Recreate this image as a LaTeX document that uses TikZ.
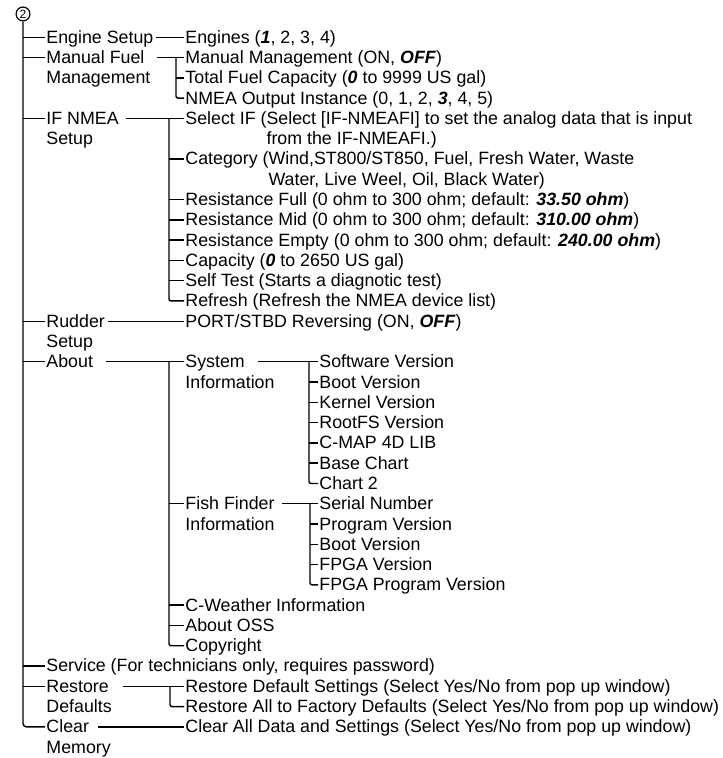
\documentclass[tikz,border=0pt]{standalone}
\usepackage{fontspec}
\setmainfont{Liberation Sans}
\newcommand{\dflt}[1]{\textbf{\textit{#1}}}
\tikzset{
  menuItem/.style={
    anchor=west,
    inner sep=0pt,
    outer xsep=1.1pt,
    text height=9.3pt,
    text depth=0.3pt,
    font=\fontsize{13.35pt}{15.2pt}\selectfont
  },
  menuCircle/.style={
    circle,
    draw,
    line width=0.9pt,
    inner sep=0pt,
    minimum size=10.4pt,
    font=\fontsize{9pt}{9pt}\selectfont
  },
  junction/.style={rounded corners=1.5pt}
}
\begin{document}
\begin{tikzpicture}[x=0.75pt,y=-15.21pt,line width=1.05pt]
  \useasboundingbox (0,-1.839) rectangle (722,35.537);

  \node[menuCircle] (menu) at (23,-1.15) {2};

  % first level
  \node[menuItem] (engsetup) at (45,0) {Engine Setup};
  \node[menuItem] (fuel) at (45,1) {Manual Fuel};
  \node[menuItem] (fuelB) at (45,2) {Management};
  \node[menuItem] (ifnmea) at (45,4) {IF NMEA};
  \node[menuItem] (ifnmeaB) at (45,5) {Setup};
  \node[menuItem] (rudder) at (45,14) {Rudder};
  \node[menuItem] (rudderB) at (45,15) {Setup};
  \node[menuItem] (about) at (45,16) {About};
  \node[menuItem] (service) at (45,31)
    {Service (For technicians only, requires password)};
  \node[menuItem] (restore) at (45,32) {Restore};
  \node[menuItem] (restoreB) at (45,33) {Defaults};
  \node[menuItem] (clear) at (45,34) {Clear};
  \node[menuItem] (clearB) at (45,35) {Memory};

  % second level
  \node[menuItem] (engines) at (184,0) {Engines (\dflt{1}, 2, 3, 4)};
  \node[menuItem] (mfmgmt) at (184,1) {Manual Management (ON, \dflt{OFF})};
  \node[menuItem] (fuelcap) at (184,2)
    {Total Fuel Capacity (\dflt{0} to 9999 US gal)};
  \node[menuItem] (nmeaout) at (184,3)
    {NMEA Output Instance (0, 1, 2, \dflt{3}, 4, 5)};
  \node[menuItem] (selif) at (184,4)
    {Select IF (Select [IF-NMEAFI] to set the analog data that is input};
  \node[menuItem] (selifB) at (184,5)
    {\phantom{Select IF (}from the IF-NMEAFI.)};
  \node[menuItem] (cat) at (184,6)
    {Category (Wind,ST800/ST850, Fuel, Fresh Water, Waste};
  \node[menuItem] (catB) at (184,7)
    {\phantom{Category (}Water, Live Weel, Oil, Black Water)};
  \node[menuItem] (resfull) at (184,8)
    {Resistance Full (0 ohm to 300 ohm; default: \dflt{33.50 ohm})};
  \node[menuItem] (resmid) at (184,9)
    {Resistance Mid (0 ohm to 300 ohm; default: \dflt{310.00 ohm})};
  \node[menuItem] (resempty) at (184,10)
    {Resistance Empty (0 ohm to 300 ohm; default: \dflt{240.00 ohm})};
  \node[menuItem] (capacity) at (184,11)
    {Capacity (\dflt{0} to 2650 US gal)};
  \node[menuItem] (selftest) at (184,12) {Self Test (Starts a diagnotic test)};
  \node[menuItem] (refresh) at (184,13)
    {Refresh (Refresh the NMEA device list)};
  \node[menuItem] (reversing) at (184,14)
    {PORT/STBD Reversing (ON, \dflt{OFF})};
  \node[menuItem] (sysinfo) at (184,16) {System};
  \node[menuItem] (sysinfoB) at (184,17) {Information};
  \node[menuItem] (ffinfo) at (184,23) {Fish Finder};
  \node[menuItem] (ffinfoB) at (184,24) {Information};
  \node[menuItem] (cweather) at (184,28) {C-Weather Information};
  \node[menuItem] (oss) at (184,29) {About OSS};
  \node[menuItem] (copyright) at (184,30) {Copyright};
  \node[menuItem] (restdef) at (184,32)
    {Restore Default Settings (Select Yes/No from pop up window)};
  \node[menuItem] (restall) at (184,33)
    {Restore All to Factory Defaults (Select Yes/No from pop up window)};
  \node[menuItem] (clearall) at (184,34)
    {Clear All Data and Settings (Select Yes/No from pop up window)};

  % third level
  \node[menuItem] (softver) at (318,16) {Software Version};
  \node[menuItem] (bootver) at (318,17) {Boot Version};
  \node[menuItem] (kernel) at (318,18) {Kernel Version};
  \node[menuItem] (rootfs) at (318,19) {RootFS Version};
  \node[menuItem] (cmap) at (318,20) {C-MAP 4D LIB};
  \node[menuItem] (basechart) at (318,21) {Base Chart};
  \node[menuItem] (chart2) at (318,22) {Chart 2};
  \node[menuItem] (serial) at (318,23) {Serial Number};
  \node[menuItem] (progver) at (318,24) {Program Version};
  \node[menuItem] (ffboot) at (318,25) {Boot Version};
  \node[menuItem] (fpga) at (318,26) {FPGA Version};
  \node[menuItem] (fpgaprog) at (318,27) {FPGA Program Version};

  % junctions
  \coordinate (fuelJ) at (176,1);
  \coordinate (ifJ) at (169,4);
  \coordinate (aboutJ) at (169,16);
  \coordinate (sysJ) at (309,16);
  \coordinate (ffJ) at (310,23);
  \coordinate (restoreJ) at (170,32);

  % trunk
  \draw[rounded corners=2.5pt] (menu) |- (clear);
  \foreach \entry in {engsetup,fuel,ifnmea,rudder,about,service,restore}
    \draw (menu.south |- \entry) -- (\entry);

  % branches
  \draw[shorten <=1pt] (engsetup) -- (engines);
  \draw[shorten <=8.5pt] (fuel) -- (mfmgmt);
  \draw[junction] (fuelJ) |- (nmeaout);
  \draw (fuelJ |- fuelcap) -- (fuelcap);

  \draw[shorten <=4.5pt] (ifnmea) -- (selif);
  \draw[junction] (ifJ) |- (refresh);
  \foreach \entry in {cat,resfull,resmid,resempty,capacity,selftest}
    \draw (ifJ |- \entry) -- (\entry);

  \draw[shorten <=1.5pt] (rudder) -- (reversing);

  \draw[shorten <=8.5pt] (about) -- (sysinfo);
  \draw[junction] (aboutJ) |- (copyright);
  \foreach \entry in {ffinfo,cweather,oss}
    \draw (aboutJ |- \entry) -- (\entry);

  \draw[shorten <=8.5pt] (sysinfo) -- (softver);
  \draw[junction] (sysJ) |- (chart2);
  \foreach \entry in {bootver,kernel,rootfs,cmap,basechart}
    \draw (sysJ |- \entry) -- (\entry);

  \draw[shorten <=4.5pt] (ffinfo) -- (serial);
  \draw[junction] (ffJ) |- (fpgaprog);
  \foreach \entry in {progver,ffboot,fpga}
    \draw (ffJ |- \entry) -- (\entry);

  \draw[shorten <=9.5pt] (restore) -- (restdef);
  \draw[junction] (restoreJ) |- (restall);

  \draw[shorten <=5.5pt] (clear) -- (clearall);
\end{tikzpicture}
\end{document}
